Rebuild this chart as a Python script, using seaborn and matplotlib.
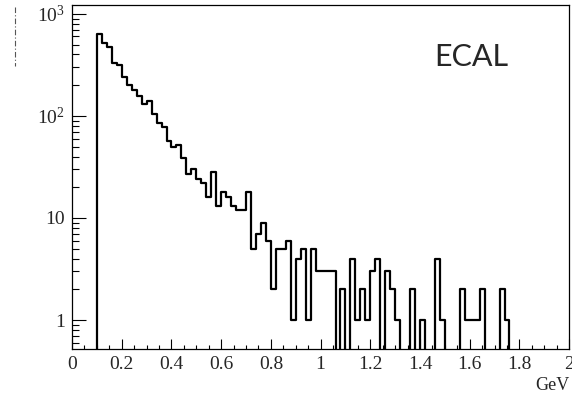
import numpy as np
import pandas as pd
import seaborn as sns
import matplotlib.pyplot as plt
from matplotlib.ticker import LogLocator, MultipleLocator, FuncFormatter, NullFormatter
from matplotlib.lines import Line2D

# histogram: 100 bins of 0.02 GeV from 0 to 2
bin_edges = [round(0.02 * i, 2) for i in range(101)]
counts = [
    0, 0, 0, 0, 0, 630, 520, 470, 332, 313,
    241, 202, 181, 155, 131, 139, 105, 86, 77, 57,
    50, 52, 39, 27, 30, 24, 22, 16, 28, 13,
    18, 16, 13, 12, 12, 18, 5, 7, 9, 6,
    2, 5, 5, 6, 1, 4, 5, 1, 5, 3,
    3, 3, 3, 0, 2, 0, 4, 1, 2, 1,
    3, 4, 0, 3, 2, 1, 0, 0, 2, 0,
    1, 0, 0, 4, 1, 0, 0, 0, 2, 1,
    1, 1, 2, 0, 0, 0, 2, 1, 0, 0,
    0, 0, 0, 0, 0, 0, 0, 0, 0, 0,
]
x_ticks = [0, 0.2, 0.4, 0.6, 0.8, 1, 1.2, 1.4, 1.6, 1.8, 2]
label_text = "ECAL"
unit_text = "GeV"

edges = np.array(bin_edges)
df = pd.DataFrame({"energy": (edges[:-1] + edges[1:]) / 2, "n": counts})

sns.set_style("white")
plt.rcParams['font.family'] = ['Liberation Serif', 'DejaVu Serif']
plt.rcParams['mathtext.fontset'] = 'custom'
plt.rcParams['mathtext.rm'] = 'Liberation Serif'
plt.rcParams['mathtext.it'] = 'Liberation Serif:italic'

fig = plt.figure(figsize=(5.72, 4.03), dpi=100)
ax = fig.add_axes([0.126, 0.134, 0.869, 0.854])

sns.histplot(data=df, x="energy", weights="n", bins=bin_edges, element="step",
             fill=False, color="black", linewidth=1.6, ax=ax)
ax.set_yscale("log")
ax.set_xlim(0, 2)
ax.set_ylim(0.52, 1225)

def ylab(v, pos):
    if v == 1:
        return "1"
    if v == 10:
        return "10"
    e = int(round(np.log10(v)))
    return r"$10^{%d}$" % e

ax.yaxis.set_major_locator(LogLocator(base=10, numticks=10))
ax.yaxis.set_minor_locator(LogLocator(base=10, subs=np.arange(2, 10), numticks=20))
ax.yaxis.set_major_formatter(FuncFormatter(ylab))
ax.yaxis.set_minor_formatter(NullFormatter())

ax.set_xticks(x_ticks)
ax.xaxis.set_minor_locator(MultipleLocator(0.05))
ax.xaxis.set_major_formatter(FuncFormatter(lambda v, p: "%g" % v))

ax.tick_params(axis="both", which="both", direction="in", color="black",
               labelsize=14, bottom=True, left=True, top=False, right=False)
ax.tick_params(axis="x", which="major", length=7, width=0.8, pad=5)
ax.tick_params(axis="x", which="minor", length=3.2, width=0.8)
ax.tick_params(axis="y", which="major", length=10, width=0.8, pad=5)
ax.tick_params(axis="y", which="minor", length=4.8, width=0.8)

for s in ax.spines.values():
    s.set_visible(True)
    s.set_color("black")
    s.set_linewidth(0.9)

ax.set_ylabel("")
ax.set_xlabel(unit_text, loc="right", fontsize=13, labelpad=3)

ax.text(0.804, 0.847, label_text, transform=ax.transAxes, ha="center", va="center",
        fontsize=22, family=["Lato", "DejaVu Sans"])

# dashed crop mark at the top left corner
fig.add_artist(Line2D([0.026, 0.026], [0.983, 0.835], transform=fig.transFigure,
                      color="#555555", linewidth=0.8, linestyle=(0, (5, 2, 1, 2))))

fig.savefig("out.png", dpi=100)
